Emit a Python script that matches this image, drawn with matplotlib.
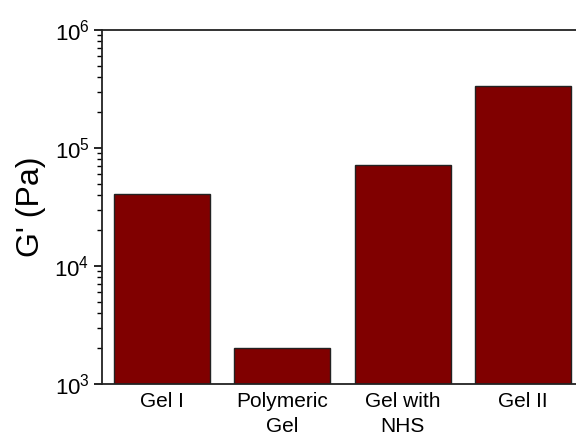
import numpy as np
import matplotlib.pyplot as plt
from matplotlib.ticker import LogLocator

categories = ['Gel I', 'Polymeric\nGel', 'Gel with\nNHS', 'Gel II']
modulus = [4.07e4, 2.0e3, 7.2e4, 3.35e5]

plt.rcParams['font.family'] = ['Liberation Sans', 'DejaVu Sans']
plt.rcParams['mathtext.fontset'] = 'custom'
plt.rcParams['mathtext.rm'] = 'Liberation Sans'

fig = plt.figure(figsize=(5.76, 4.38), dpi=100)
# axes right edge runs past the figure edge, as in the original
ax = fig.add_axes([102/576, (438-384)/438, (583-102)/576, (384-30)/438])

x = np.arange(len(categories))
ax.bar(x, modulus, width=0.8, color='#800000', edgecolor='#222222', linewidth=1.0, bottom=0)
ax.set_yscale('log')
ax.set_ylim(1e3, 1e6)
ax.set_xlim(-0.5, len(categories) - 0.5)
ax.set_xticks(x)
ax.set_xticklabels(categories, fontsize=15, linespacing=1.35)
ax.tick_params(axis='x', length=0, pad=6)
ax.tick_params(axis='y', which='major', direction='out', length=6, width=1.2, labelsize=16, pad=3)
ax.tick_params(axis='y', which='minor', direction='out', length=3.5, width=1.0)
ax.yaxis.set_minor_locator(LogLocator(base=10, subs=np.arange(2, 10)))
ax.set_ylabel("G' (Pa)", fontsize=23, labelpad=6)
for s in ax.spines.values():
    s.set_linewidth(1.3)
    s.set_color('#222222')

fig.savefig('out.png', dpi=100)
